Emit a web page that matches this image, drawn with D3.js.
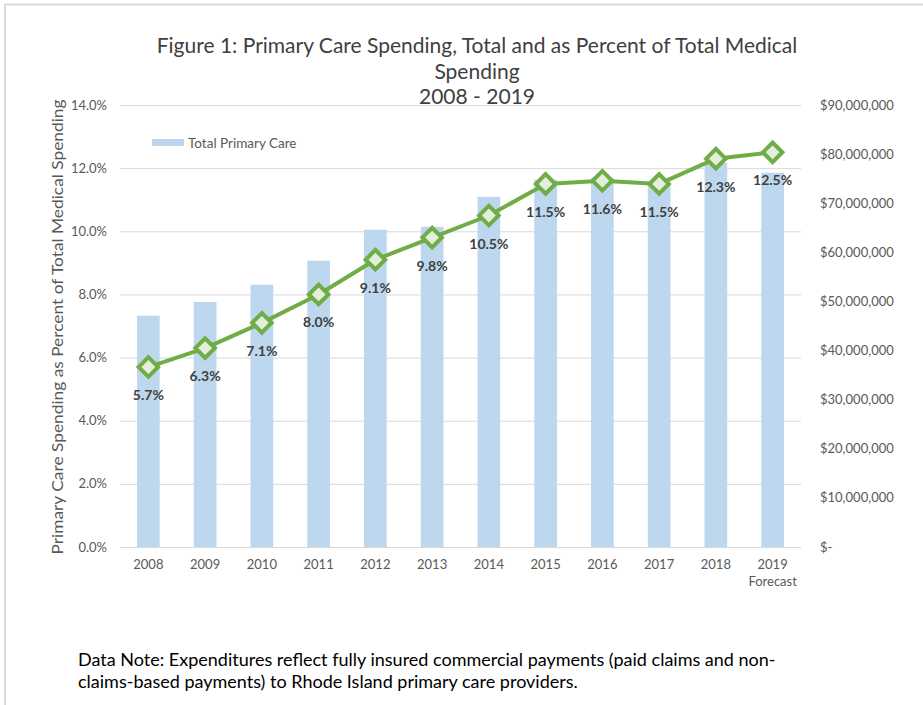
<!DOCTYPE html>
<html>
<head>
<meta charset="utf-8">
<script src="https://cdn.jsdelivr.net/npm/d3@7"></script>
<style>
  body { margin: 0; background: #fff; }
  svg { display: block; font-family: Lato, "Open Sans", sans-serif; }
</style>
</head>
<body>
<svg id="chart" width="923" height="705"></svg>
<script>
const years = ["2008", "2009", "2010", "2011", "2012", "2013", "2014", "2015", "2016", "2017", "2018", "2019"];
// total primary care spending, dollars
const spending = [47100000, 49900000, 53400000, 58300000, 64600000, 65200000, 71300000, 74800000, 75200000, 74200000, 78200000, 76200000];
// primary care as percent of total medical spending
const pctSpend = [5.7, 6.3, 7.1, 8.0, 9.1, 9.8, 10.5, 11.5, 11.6, 11.5, 12.3, 12.5];
const leftTicks = [0, 2, 4, 6, 8, 10, 12, 14];
const rightTicks = [0, 10000000, 20000000, 30000000, 40000000, 50000000, 60000000, 70000000, 80000000, 90000000];
const titleLines = ["Figure 1: Primary Care Spending, Total and as Percent of Total Medical", "Spending", "2008 - 2019"];
const noteLines = ["Data Note: Expenditures reflect fully insured commercial payments (paid claims and non-", "claims-based payments) to Rhode Island primary care providers."];

const svg = d3.select("#chart");
const plotL = 120, plotR = 801, plotT = 105, plotB = 547;

// outer frame lines (top and left)
svg.append("line").attr("x1", 5).attr("x2", 923).attr("y1", 4.5).attr("y2", 4.5)
  .attr("stroke", "#d9d9d9").attr("stroke-width", 2);
svg.append("line").attr("x1", 5).attr("x2", 5).attr("y1", 4).attr("y2", 705)
  .attr("stroke", "#d9d9d9").attr("stroke-width", 2);

const x = d3.scaleBand().domain(years).range([plotL, plotR]).paddingInner(0.6).paddingOuter(0.3);
const yPct = d3.scaleLinear().domain([0, 14]).range([plotB, plotT]);
const yDol = d3.scaleLinear().domain([0, 90000000]).range([plotB, plotT]);

// gridlines
svg.append("g").selectAll("line").data(leftTicks).join("line")
  .attr("x1", plotL).attr("x2", plotR)
  .attr("y1", d => yPct(d) + 0.5).attr("y2", d => yPct(d) + 0.5)
  .attr("stroke", "#d9d9d9").attr("stroke-width", 1);

// left axis labels
svg.append("g").selectAll("text").data(leftTicks).join("text")
  .attr("x", 107).attr("y", d => yPct(d)).attr("dy", "0.35em")
  .attr("text-anchor", "end").attr("font-size", 13).attr("fill", "#595959")
  .text(d => d.toFixed(1) + "%");

// right axis labels
const fmt = d3.format(",");
svg.append("g").selectAll("text").data(rightTicks).join("text")
  .attr("x", 820).attr("y", d => yDol(d)).attr("dy", "0.35em")
  .attr("font-size", 13).attr("fill", "#595959")
  .text(d => d === 0 ? "$-" : "$" + fmt(d));

// bars
svg.append("g").selectAll("rect").data(years).join("rect")
  .attr("x", d => x(d)).attr("width", x.bandwidth())
  .attr("y", (d, i) => yDol(spending[i]))
  .attr("height", (d, i) => plotB - yDol(spending[i]))
  .attr("fill", "#bdd7ee");

// x labels
const xl = svg.append("g");
xl.selectAll("text").data(years).join("text")
  .attr("x", d => x(d) + x.bandwidth() / 2).attr("y", 569)
  .attr("text-anchor", "middle").attr("font-size", 13).attr("fill", "#595959")
  .text(d => d);
xl.append("text").attr("x", x("2019") + x.bandwidth() / 2).attr("y", 586)
  .attr("text-anchor", "middle").attr("font-size", 13).attr("fill", "#595959")
  .text("Forecast");

// line
const cx = d => x(d) + x.bandwidth() / 2;
const line = d3.line().x(d => cx(d)).y((d, i) => yPct(pctSpend[i]));
svg.append("path").datum(years).attr("d", line)
  .attr("fill", "none").attr("stroke", "#70ad47").attr("stroke-width", 4)
  .attr("stroke-linejoin", "round");

// diamond markers
const sym = d3.symbol().type(d3.symbolSquare).size(190);
svg.append("g").selectAll("path").data(years).join("path")
  .attr("d", sym)
  .attr("transform", (d, i) => `translate(${cx(d)},${yPct(pctSpend[i])}) rotate(45)`)
  .attr("fill", "#e2efda").attr("stroke", "#70ad47").attr("stroke-width", 4);

// data labels
svg.append("g").selectAll("text").data(years).join("text")
  .attr("x", cx).attr("y", (d, i) => yPct(pctSpend[i]) + 33)
  .attr("text-anchor", "middle").attr("font-size", 14).attr("font-weight", "bold")
  .attr("fill", "#404040")
  .text((d, i) => pctSpend[i].toFixed(1) + "%");

// legend
svg.append("rect").attr("x", 152).attr("y", 139).attr("width", 32).attr("height", 7).attr("fill", "#bdd7ee");
svg.append("text").attr("x", 188).attr("y", 143).attr("dy", "0.35em")
  .attr("font-size", 13.5).attr("fill", "#595959").text("Total Primary Care");

// title
svg.append("g").selectAll("text").data(titleLines).join("text")
  .attr("x", 477).attr("y", (d, i) => 53 + i * 25.5)
  .attr("text-anchor", "middle").attr("font-size", 21).attr("fill", "#404040")
  .text(d => d);

// y axis title
svg.append("text").attr("transform", "translate(63,327) rotate(-90)")
  .attr("text-anchor", "middle").attr("font-size", 16).attr("fill", "#595959")
  .attr("textLength", 455).attr("lengthAdjust", "spacingAndGlyphs")
  .text("Primary Care Spending as Percent of Total Medical Spending");

// data note
svg.append("g").selectAll("text").data(noteLines).join("text")
  .attr("x", 78).attr("y", (d, i) => 666 + i * 22)
  .attr("font-size", 18).attr("fill", "#000")
  .text(d => d);
</script>
</body>
</html>
